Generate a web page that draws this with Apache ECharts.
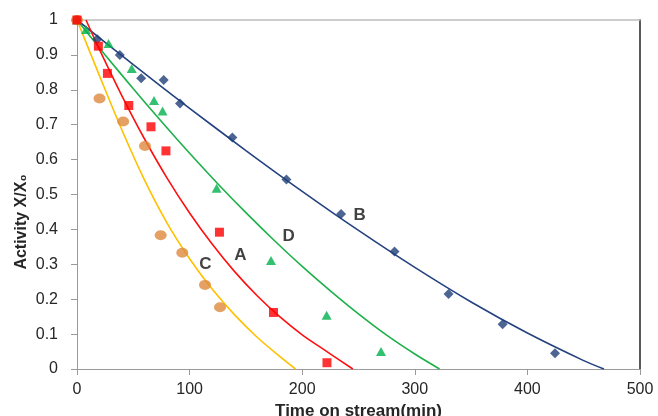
<!DOCTYPE html>
<html>
<head>
<meta charset="utf-8">
<script src="https://cdn.jsdelivr.net/npm/echarts@6/dist/echarts.min.js"></script>
<style>
html,body{margin:0;padding:0;background:#fff;}
#chart{width:658px;height:416px;}
</style>
</head>
<body>
<div id="chart"></div>
<script>
// Measured points [time (min), activity X/X0]
var pointsB = [[0,1],[18,0.945],[38,0.90],[57,0.833],[77,0.828],[91.5,0.761],[138,0.663],[186,0.543],[234.5,0.444],[282,0.337],[330,0.215],[378,0.128],[424.5,0.045]];
var pointsD = [[0,1],[8,0.973],[28,0.933],[48.6,0.861],[68.4,0.769],[76,0.739],[124,0.518],[172.3,0.311],[221.7,0.154],[270,0.05]];
var pointsC = [[0,1],[20,0.775],[41,0.709],[60.4,0.639],[74.3,0.383],[93.5,0.333],[113.7,0.241],[127,0.177]];
var pointsA = [[0,1],[19,0.925],[27,0.847],[46,0.755],[65.7,0.694],[79,0.625],[126.5,0.392],[174.5,0.162],[222,0.018]];

// Fitted curves
var curveB = [[0,1],[50,0.872],[100,0.747],[150,0.626],[200,0.509],[250,0.397],[300,0.291],[350,0.192],[400,0.103],[450,0.024],[468,0]];
var curveD = [[0,1],[25,0.900],[50,0.803],[75,0.709],[100,0.618],[125,0.531],[150,0.448],[175,0.369],[200,0.294],[225,0.224],[250,0.158],[275,0.097],[300,0.043],[322,0]];
var curveC = [[0,1],[20,0.840],[40,0.684],[60,0.541],[80,0.418],[100,0.316],[120,0.229],[140,0.155],[160,0.091],[180,0.036],[194,0]];
var curveA = [[8,1],[20,0.915],[40,0.782],[60,0.659],[80,0.547],[100,0.447],[120,0.358],[140,0.279],[160,0.210],[180,0.150],[200,0.098],[220,0.054],[245,0]];

// Curve labels: [time, activity, name]
var curveLabels = [[251,0.441,'B'],[188,0.381,'D'],[145,0.327,'A'],[114,0.301,'C']];

var xTicks = {min:0, max:500, interval:100};
var yTicks = {min:0, max:1, interval:0.1};

var FONT = '"Liberation Sans", Arial, sans-serif';
var TXT = '#262626';

var chart = echarts.init(document.getElementById('chart'), null, {renderer:'canvas'});

function lineSeries(data, color){
  return {type:'line', data:data, smooth:0.3, symbol:'none', xAxisIndex:0, yAxisIndex:0,
    lineStyle:{color:color, width:1.6}, z:2, silent:true};
}

var option = {
  animation:false,
  backgroundColor:'#fff',
  grid:{left:77, right:18, top:20, bottom:47, containLabel:false, outerBoundsMode:'none'},
  xAxis:[{
    type:'value', min:xTicks.min, max:xTicks.max, interval:xTicks.interval,
    name:'Time on stream(min)', nameLocation:'middle', nameGap:27,
    nameTextStyle:{fontFamily:FONT, fontWeight:'bold', fontSize:17, color:TXT},
    axisLine:{show:true, lineStyle:{color:'#9a9a9a', width:1}},
    axisTick:{show:true, inside:false, length:6, lineStyle:{color:'#9a9a9a'}},
    axisLabel:{fontFamily:FONT, fontSize:16, color:TXT, margin:13},
    splitLine:{show:false}
  },{
    type:'value', position:'top', min:xTicks.min, max:xTicks.max,
    axisLine:{show:true, onZero:false, lineStyle:{color:'#bdbdbd', width:1.5}},
    axisTick:{show:false}, axisLabel:{show:false}, splitLine:{show:false}
  }],
  yAxis:[{
    type:'value', min:yTicks.min, max:yTicks.max, interval:yTicks.interval,
    axisLine:{show:true, onZero:false, lineStyle:{color:'#9a9a9a', width:1}},
    axisTick:{show:true, inside:false, length:6, lineStyle:{color:'#9a9a9a'}},
    axisLabel:{fontFamily:FONT, fontSize:16, color:TXT, margin:19},
    splitLine:{show:false}
  },{
    type:'value', position:'right', min:yTicks.min, max:yTicks.max,
    axisLine:{show:true, onZero:false, lineStyle:{color:'#5a5a5a', width:2}},
    axisTick:{show:false}, axisLabel:{show:false}, splitLine:{show:false}
  }],
  graphic:[{
    type:'text', x:22, y:222, rotation:Math.PI/2,
    style:{text:'Activity X/X\u2080', font:'bold 16px ' + FONT, fill:TXT, align:'center', verticalAlign:'middle'}
  }],
  series:[
    lineSeries(curveB, '#24427f'),
    lineSeries(curveD, '#1eb04a'),
    lineSeries(curveC, '#ffc000'),
    lineSeries(curveA, '#ff1010'),
    {type:'scatter', data:pointsB, symbol:'diamond', symbolSize:[10,10], itemStyle:{color:'#1f3f78'}, z:3},
    {type:'scatter', data:pointsD, symbol:'triangle', symbolSize:[10,9], itemStyle:{color:'#00b04c'}, z:3},
    {type:'scatter', data:pointsC, symbol:'circle', symbolSize:[12,10], itemStyle:{color:'#dd8a3c'}, z:3},
    {type:'scatter', data:pointsA, symbol:'rect', symbolSize:[9,9], itemStyle:{color:'#ff0000'}, z:4},
    {type:'scatter', data:curveLabels.map(function(d){return {value:[d[0],d[1]], name:d[2]};}),
      symbolSize:0, z:5,
      label:{show:true, position:'inside', formatter:function(p){return p.name;},
        fontFamily:FONT, fontWeight:'bold', fontSize:17, color:'#111'}}
  ]
};
chart.setOption(option);
</script>
</body>
</html>
